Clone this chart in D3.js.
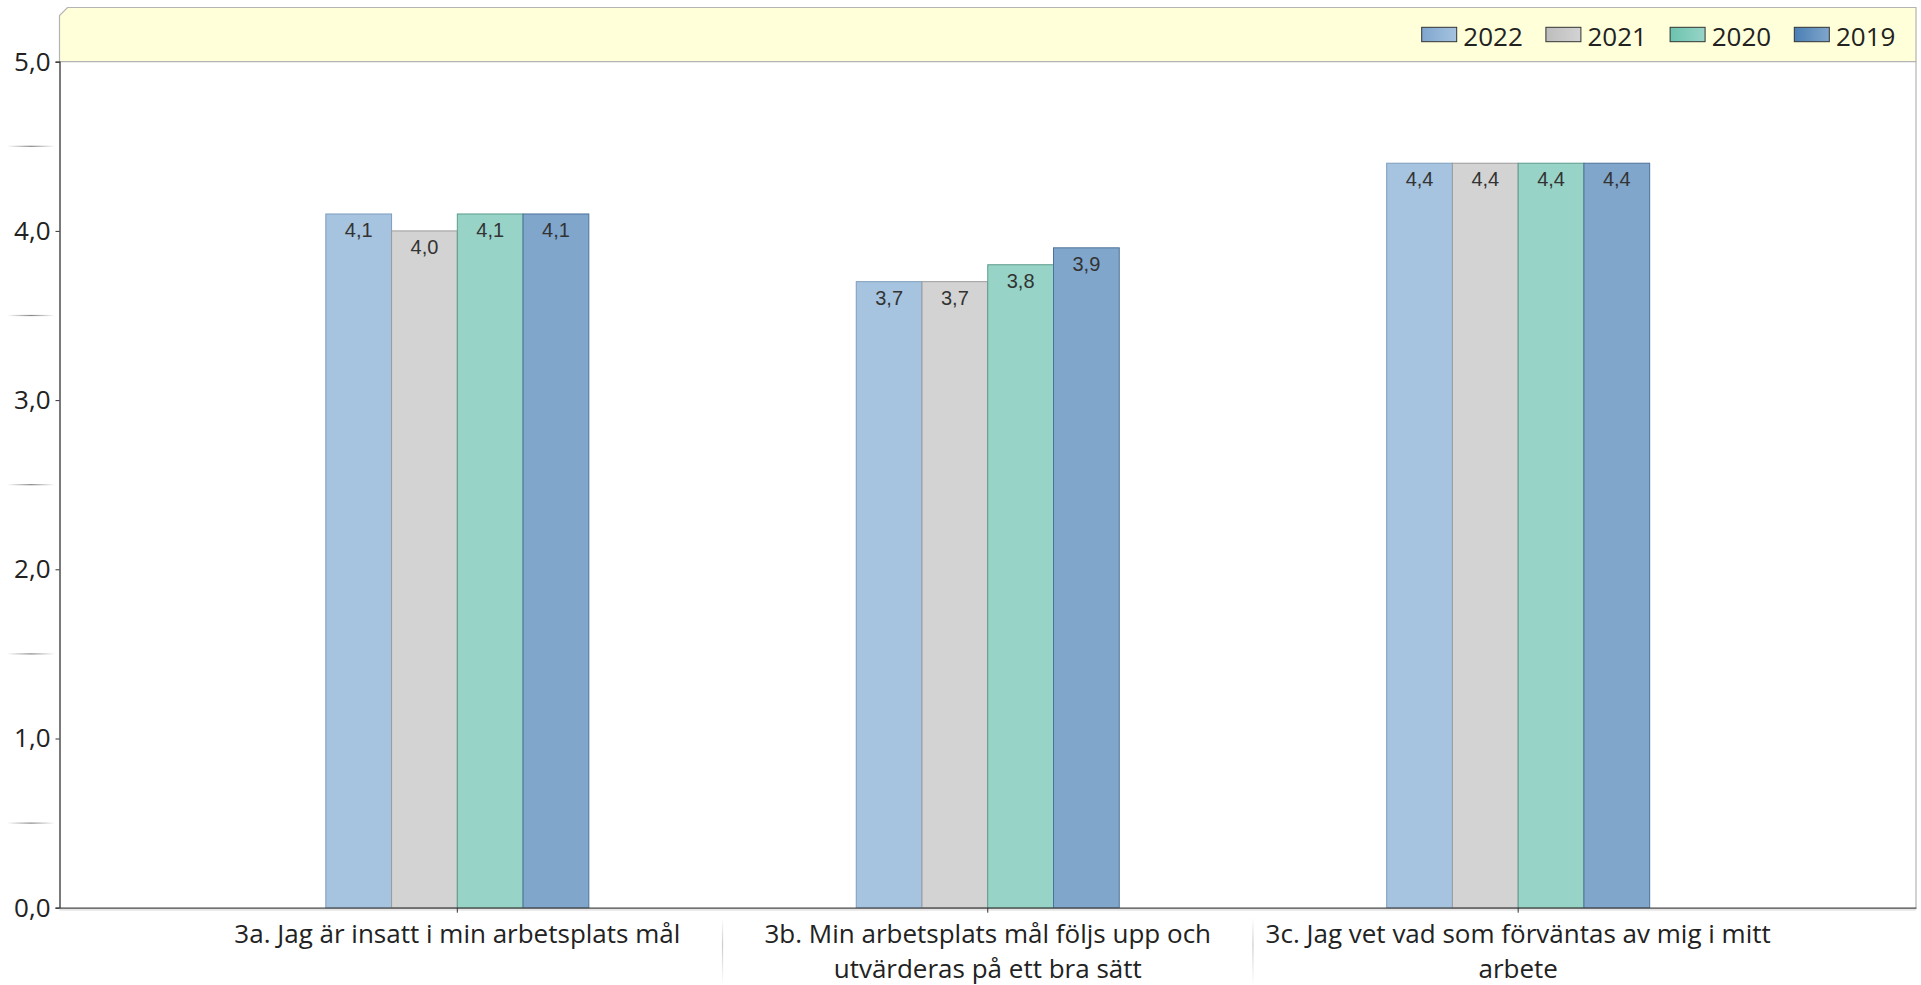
<!DOCTYPE html>
<html>
<head>
<meta charset="utf-8">
<script src="https://cdn.jsdelivr.net/npm/d3@7"></script>
<style>
  body { margin: 0; background: #fff; }
  svg { display: block; font-family: "Open Sans", sans-serif; }
</style>
</head>
<body>
<div id="chart"></div>
<script>
// Data
const categories = [
    "3a. Jag är insatt i min arbetsplats mål",
    "3b. Min arbetsplats mål följs upp och utvärderas på ett bra sätt",
    "3c. Jag vet vad som förväntas av mig i mitt arbete"
];
const years = ["2022", "2021", "2020", "2019"];
const values2022 = [4.1, 3.7, 4.4];
const values2021 = [4.0, 3.7, 4.4];
const values2020 = [4.1, 3.8, 4.4];
const values2019 = [4.1, 3.9, 4.4];
const yTicks = [0, 1, 2, 3, 4, 5];
const yMinorTicks = [0.5, 1.5, 2.5, 3.5, 4.5];

const seriesValues = { "2022": values2022, "2021": values2021, "2020": values2020, "2019": values2019 };
const fills = { "2022": "#a6c3df", "2021": "#d3d3d3", "2020": "#97d4c7", "2019": "#80a6cb" };
const strokes = { "2022": "#7d9dbd", "2021": "#9c9c9c", "2020": "#5e9a8c", "2019": "#4d7299" };
const legendDark = { "2022": "#7fa6cf", "2021": "#bdbdbd", "2020": "#6cc3ae", "2019": "#4a7fb5" };

const totalWidth = 1921, totalHeight = 985;
const margin = { top: 61.7, right: 5, bottom: 77.3, left: 59.5 };
const width = totalWidth - margin.left - margin.right;
const height = totalHeight - margin.top - margin.bottom;

const root = d3.select("#chart").append("svg")
    .attr("width", totalWidth)
    .attr("height", totalHeight);

const defs = root.append("defs");

// gradients for faded minor ticks and separators
const hGrad = defs.append("linearGradient").attr("id", "hfade");
hGrad.append("stop").attr("offset", "0%").attr("stop-color", "#fff");
hGrad.append("stop").attr("offset", "50%").attr("stop-color", "#888");
hGrad.append("stop").attr("offset", "100%").attr("stop-color", "#fff");

const vGrad = defs.append("linearGradient").attr("id", "vfade")
    .attr("x1", 0).attr("y1", 0).attr("x2", 0).attr("y2", 1);
vGrad.append("stop").attr("offset", "0%").attr("stop-color", "#fff");
vGrad.append("stop").attr("offset", "40%").attr("stop-color", "#ccc");
vGrad.append("stop").attr("offset", "100%").attr("stop-color", "#fff");

years.forEach(y => {
    const g = defs.append("linearGradient").attr("id", "lg" + y);
    g.append("stop").attr("offset", "0%").attr("stop-color", legendDark[y]);
    g.append("stop").attr("offset", "100%").attr("stop-color", fills[y]);
});

// Legend band with chamfered corner
const bandTop = 7.5;
const x0p = margin.left, x1p = margin.left + width;
root.append("path")
    .attr("d", `M${x0p},${margin.top} L${x0p},${bandTop + 8} L${x0p + 8},${bandTop} L${x1p},${bandTop} L${x1p},${margin.top} Z`)
    .attr("fill", "#ffffda")
    .attr("stroke", "#b4b4b4")
    .attr("stroke-width", 1.2);

// right frame line
root.append("line")
    .attr("x1", x1p).attr("x2", x1p)
    .attr("y1", margin.top).attr("y2", margin.top + height)
    .attr("stroke", "#b4b4b4")
    .attr("stroke-width", 1.2);

const svg = root.append("g")
    .attr("transform", `translate(${margin.left},${margin.top})`);

// Scales
const xScale = d3.scaleBand()
    .domain(categories)
    .range([0, width])
    .paddingOuter(0.25);

const groupWidth = 263;
const xInner = d3.scaleBand()
    .domain(years)
    .range([(xScale.bandwidth() - groupWidth) / 2, (xScale.bandwidth() + groupWidth) / 2]);

const yScale = d3.scaleLinear()
    .domain([0, 5])
    .range([height, 0]);

// Bars
const groups = svg.selectAll(".group")
    .data(categories)
    .enter().append("g")
    .attr("class", "group")
    .attr("transform", d => `translate(${xScale(d)},0)`);

years.forEach(yr => {
    groups.append("rect")
        .attr("x", xInner(yr))
        .attr("y", (d, i) => yScale(seriesValues[yr][i]))
        .attr("width", xInner.bandwidth())
        .attr("height", (d, i) => height - yScale(seriesValues[yr][i]))
        .attr("fill", fills[yr])
        .attr("stroke", strokes[yr])
        .attr("stroke-width", 1);

    groups.append("text")
        .attr("x", xInner(yr) + xInner.bandwidth() / 2)
        .attr("y", (d, i) => yScale(seriesValues[yr][i]) + 23)
        .attr("text-anchor", "middle")
        .attr("font-family", "'Liberation Sans', Arial, sans-serif")
        .attr("font-size", 20)
        .attr("fill", "#333")
        .text((d, i) => d3.format(".1f")(seriesValues[yr][i]).replace(".", ","));
});

// Y axis
const yAxis = svg.append("g")
    .call(d3.axisLeft(yScale).tickValues(yTicks).tickSize(4).tickPadding(5)
        .tickFormat(d => d3.format(".1f")(d).replace(".", ",")));
yAxis.select(".domain").attr("stroke", "#333").attr("stroke-width", 1.3);
yAxis.selectAll(".tick line").attr("stroke", "#333");
yAxis.selectAll(".tick text")
    .attr("font-family", "'Open Sans', sans-serif")
    .attr("font-size", 26)
    .attr("fill", "#222");

// minor faded ticks
svg.selectAll(".minor")
    .data(yMinorTicks)
    .enter().append("rect")
    .attr("class", "minor")
    .attr("x", 7 - margin.left)
    .attr("y", d => yScale(d) - 0.6)
    .attr("width", 48)
    .attr("height", 1.2)
    .attr("fill", "url(#hfade)");

// X axis
svg.append("line")
    .attr("x1", 0).attr("x2", width)
    .attr("y1", height + 2).attr("y2", height + 2)
    .attr("stroke", "#e6e6e6").attr("stroke-width", 2);

const xAxis = svg.append("g")
    .attr("transform", `translate(0,${height})`)
    .call(d3.axisBottom(xScale).tickSize(5).tickSizeOuter(0).tickFormat(""));
xAxis.select(".domain").attr("stroke", "#444").attr("stroke-width", 1.3);
xAxis.selectAll(".tick line").attr("stroke", "#333");

// category separators
svg.selectAll(".sep")
    .data(categories.slice(1))
    .enter().append("rect")
    .attr("class", "sep")
    .attr("x", d => xScale(d) - 0.6)
    .attr("y", height + 10)
    .attr("width", 1.2)
    .attr("height", totalHeight - margin.top - height - 10)
    .attr("fill", "url(#vfade)");

// category labels with wrapping
const labelG = svg.selectAll(".xlabel")
    .data(categories)
    .enter().append("text")
    .attr("class", "xlabel")
    .attr("x", d => xScale(d) + xScale.bandwidth() / 2)
    .attr("y", height + 35.6)
    .attr("text-anchor", "middle")
    .attr("font-size", 26)
    .attr("fill", "#222");

labelG.each(function(d) {
    const text = d3.select(this);
    const words = d.split(" ");
    const maxW = 520;
    let line = [];
    let tspan = text.append("tspan").attr("x", text.attr("x")).attr("dy", 0);
    words.forEach(w => {
        line.push(w);
        tspan.text(line.join(" "));
        if (tspan.node().getComputedTextLength() > maxW && line.length > 1) {
            line.pop();
            tspan.text(line.join(" "));
            line = [w];
            tspan = text.append("tspan").attr("x", text.attr("x")).attr("dy", 35).text(w);
        }
    });
});

// Legend
const legendLeft = 1421.7;
const legendSpacing = 124.2;
const legend = root.selectAll(".legend")
    .data(years)
    .enter().append("g")
    .attr("class", "legend")
    .attr("transform", (d, i) => `translate(${legendLeft + i * legendSpacing},0)`);

legend.append("rect")
    .attr("x", 0)
    .attr("y", 27.3)
    .attr("width", 35)
    .attr("height", 14.4)
    .attr("fill", d => `url(#lg${d})`)
    .attr("stroke", "#333")
    .attr("stroke-width", 1);

legend.append("text")
    .attr("x", 41.6)
    .attr("y", 45.7)
    .attr("font-size", 26)
    .attr("fill", "#222")
    .text(d => d);
</script>
</body>
</html>
